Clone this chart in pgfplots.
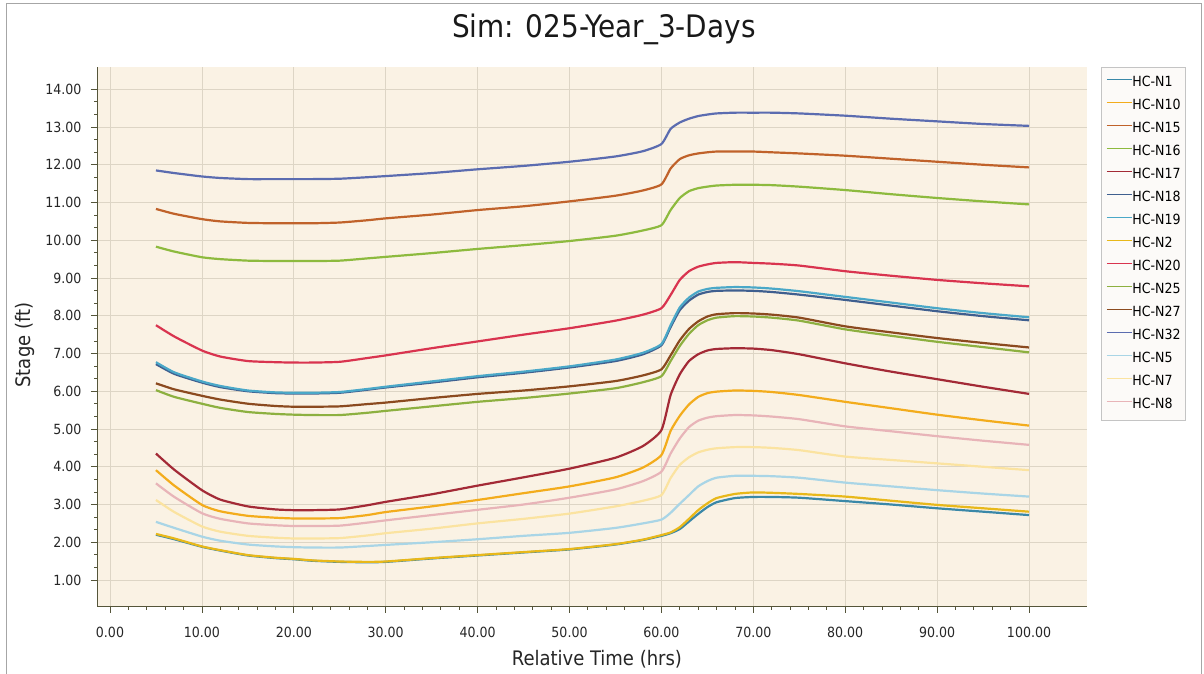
\documentclass[border=0pt]{standalone}
\usepackage{fontspec}
\setmainfont{DejaVu Sans Condensed}
\usepackage{pgfplots}
\usepackage{pgfplotstable}
\pgfplotsset{compat=1.18}

\definecolor{cN1}{HTML}{3A88A8}
\definecolor{cN10}{HTML}{F3AC1C}
\definecolor{cN15}{HTML}{C0622A}
\definecolor{cN16}{HTML}{8DBA3E}
\definecolor{cN17}{HTML}{A32A36}
\definecolor{cN18}{HTML}{3F5F8F}
\definecolor{cN19}{HTML}{4AA8C8}
\definecolor{cN2}{HTML}{E8B81A}
\definecolor{cN20}{HTML}{D9344F}
\definecolor{cN25}{HTML}{8DB040}
\definecolor{cN27}{HTML}{8B4A1F}
\definecolor{cN32}{HTML}{5B6CB0}
\definecolor{cN5}{HTML}{A9D5E6}
\definecolor{cN7}{HTML}{FBE3A0}
\definecolor{cN8}{HTML}{E8B4B8}
\definecolor{plotbg}{HTML}{FAF2E4}
\definecolor{gridcol}{HTML}{DDD5C5}
\definecolor{axiscol}{HTML}{55553A}
\definecolor{legcol}{HTML}{C4C4C4}
\definecolor{legbg}{HTML}{FCFAF8}

\pgfplotstableread{
x   N1   N10  N15   N16   N17  N18  N19  N2   N20  N25  N27  N32   N5   N7   N8
5   2.20 3.91 10.83 9.83  4.35 6.72 6.77 2.22 7.75 6.03 6.21 11.85 2.54 3.12 3.56
7   2.08 3.50 10.70 9.70  3.92 6.46 6.50 2.10 7.45 5.85 6.05 11.78 2.38 2.80 3.20
10  1.88 2.99 10.56 9.55  3.38 6.23 6.26 1.89 7.08 5.67 5.88 11.69 2.15 2.42 2.77
12  1.78 2.82 10.50 9.50  3.13 6.11 6.14 1.79 6.92 5.56 5.78 11.65 2.04 2.28 2.62
15  1.65 2.70 10.46 9.46  2.95 6.00 6.02 1.66 6.80 5.45 5.67 11.62 1.94 2.17 2.50
18  1.58 2.65 10.45 9.45  2.87 5.95 5.97 1.59 6.77 5.40 5.61 11.62 1.89 2.12 2.45
20  1.55 2.63 10.45 9.45  2.85 5.94 5.96 1.56 6.76 5.38 5.59 11.62 1.87 2.10 2.43
22  1.51 2.63 10.45 9.45  2.85 5.94 5.96 1.52 6.76 5.37 5.59 11.62 1.86 2.10 2.43
25  1.48 2.64 10.47 9.46  2.87 5.96 5.98 1.49 6.78 5.37 5.60 11.63 1.86 2.11 2.44
28  1.47 2.72 10.53 9.52  2.98 6.04 6.06 1.48 6.88 5.43 5.66 11.67 1.90 2.18 2.52
30  1.48 2.80 10.58 9.56  3.07 6.10 6.12 1.49 6.95 5.48 5.70 11.70 1.93 2.24 2.58
35  1.57 2.95 10.68 9.66  3.27 6.23 6.26 1.58 7.14 5.60 5.82 11.78 2.00 2.36 2.72
40  1.65 3.12 10.80 9.77  3.50 6.37 6.40 1.66 7.32 5.72 5.93 11.88 2.08 2.50 2.86
45  1.73 3.30 10.90 9.87  3.72 6.49 6.52 1.74 7.50 5.82 6.02 11.97 2.17 2.62 3.00
50  1.81 3.48 11.03 9.98  3.95 6.63 6.66 1.82 7.67 5.94 6.13 12.08 2.25 2.76 3.18
55  1.94 3.72 11.18 10.12 4.24 6.80 6.84 1.95 7.87 6.08 6.27 12.22 2.38 2.95 3.40
58  2.06 3.98 11.32 10.26 4.55 6.98 7.02 2.07 8.03 6.24 6.42 12.36 2.50 3.10 3.62
60  2.17 4.31 11.48 10.40 4.97 7.22 7.25 2.19 8.20 6.40 6.58 12.55 2.60 3.25 3.87
61  2.24 4.95 11.90 10.80 5.90 7.70 7.75 2.26 8.55 6.80 6.95 12.95 2.78 3.70 4.35
62  2.35 5.35 12.15 11.12 6.45 8.15 8.22 2.40 8.95 7.20 7.35 13.12 3.02 4.05 4.75
63  2.55 5.65 12.25 11.30 6.80 8.40 8.48 2.62 9.18 7.52 7.65 13.22 3.25 4.25 5.05
64  2.75 5.85 12.30 11.38 6.98 8.56 8.64 2.85 9.30 7.75 7.85 13.29 3.48 4.38 5.22
65  2.93 5.95 12.33 11.42 7.08 8.63 8.71 3.03 9.36 7.88 7.98 13.33 3.62 4.45 5.30
66  3.06 5.99 12.35 11.45 7.12 8.66 8.74 3.17 9.40 7.95 8.04 13.36 3.71 4.49 5.34
68  3.17 6.02 12.35 11.47 7.14 8.67 8.76 3.28 9.42 7.99 8.07 13.38 3.76 4.52 5.37
70  3.20 6.01 12.35 11.47 7.13 8.66 8.75 3.32 9.40 7.98 8.06 13.38 3.76 4.52 5.36
72  3.20 5.98 12.33 11.46 7.09 8.63 8.72 3.31 9.38 7.95 8.03 13.38 3.75 4.50 5.33
75  3.18 5.90 12.30 11.42 6.98 8.56 8.65 3.28 9.33 7.87 7.95 13.36 3.71 4.44 5.26
80  3.09 5.72 12.24 11.33 6.74 8.42 8.50 3.21 9.18 7.64 7.72 13.30 3.58 4.27 5.07
85  3.00 5.55 12.16 11.22 6.52 8.27 8.35 3.10 9.06 7.47 7.56 13.22 3.48 4.18 4.94
90  2.90 5.38 12.08 11.12 6.32 8.12 8.20 2.99 8.95 7.31 7.41 13.15 3.38 4.09 4.81
95  2.81 5.23 12.00 11.03 6.12 7.99 8.07 2.90 8.86 7.17 7.28 13.08 3.29 4.00 4.69
100 2.72 5.09 11.93 10.95 5.93 7.88 7.96 2.81 8.78 7.03 7.16 13.03 3.21 3.91 4.58
}\datatable

\begin{document}
\begin{tikzpicture}
\useasboundingbox (0pt,0pt) rectangle (1204pt,674pt);
\fill[white] (0pt,0pt) rectangle (1204pt,674pt);
\draw[gray!70, line width=1pt] (6pt,0pt) -- (6pt,670pt) -- (1201pt,670pt) -- (1201pt,0pt);
\begin{axis}[
  at={(97pt,67pt)}, anchor=south west,
  scale only axis, width=990pt, height=540pt,
  xmin=-1.415, xmax=106.31, ymin=0.285, ymax=14.59,
  axis x line*=bottom, axis y line*=left,
  axis line style={-, draw=axiscol, line width=1pt},
  axis background/.style={fill=plotbg},
  xtick={0,10,...,100}, ytick={1,2,...,14},
  minor x tick num=4, minor y tick num=2,
  tick align=outside,
  major tick length=6pt, minor tick length=3pt,
  every tick/.style={draw=axiscol, line width=0.8pt},
  grid=major, major grid style={draw=gridcol, line width=0.8pt},
  /pgf/number format/fixed, /pgf/number format/fixed zerofill,
  /pgf/number format/precision=2, /pgf/number format/assume math mode=true,
  xticklabel style={font=\fontsize{14}{16}\selectfont, text=black!85, yshift=-11pt},
  yticklabel style={font=\fontsize{14}{16}\selectfont, text=black!85, xshift=-6pt},
  title={Sim: 025-Year\_3-Days},
  title style={at={(axis description cs:0.512,1.0426)}, anchor=base, font=\fontsize{31}{36}\selectfont, text=black!90},
  xlabel={Relative Time (hrs)},
  xlabel style={at={(axis description cs:0.505,-0.0963)}, anchor=center, font=\fontsize{20}{24}\selectfont, text=black!85},
  ylabel={Stage (ft)},
  ylabel style={at={(axis description cs:-0.0727,0.485)}, anchor=center, font=\fontsize{20}{24}\selectfont, text=black!85},
  legend style={at={(1.0141,1)}, anchor=north west, draw=legcol, fill=legbg,
    font=\fontsize{14}{16}\selectfont, inner xsep=5pt, inner ysep=9pt, row sep=10pt,
    nodes={inner sep=0pt, text height=10pt, text depth=3pt},
    /tikz/every even column/.append style={column sep=5pt}},
  legend cell align=left,
  legend image code/.code={\draw[#1, line width=1.2pt] (0pt,3pt) -- (25pt,3pt);},
  every axis plot/.append style={line width=2.2pt, no markers, smooth, tension=0.35},
]
\addplot[cN1]  table[x=x,y=N1]{\datatable};  \addlegendentry{HC-N1}
\addplot[cN10] table[x=x,y=N10]{\datatable}; \addlegendentry{HC-N10}
\addplot[cN15] table[x=x,y=N15]{\datatable}; \addlegendentry{HC-N15}
\addplot[cN16] table[x=x,y=N16]{\datatable}; \addlegendentry{HC-N16}
\addplot[cN17] table[x=x,y=N17]{\datatable}; \addlegendentry{HC-N17}
\addplot[cN18] table[x=x,y=N18]{\datatable}; \addlegendentry{HC-N18}
\addplot[cN19] table[x=x,y=N19]{\datatable}; \addlegendentry{HC-N19}
\addplot[cN2]  table[x=x,y=N2]{\datatable};  \addlegendentry{HC-N2}
\addplot[cN20] table[x=x,y=N20]{\datatable}; \addlegendentry{HC-N20}
\addplot[cN25] table[x=x,y=N25]{\datatable}; \addlegendentry{HC-N25}
\addplot[cN27] table[x=x,y=N27]{\datatable}; \addlegendentry{HC-N27}
\addplot[cN32] table[x=x,y=N32]{\datatable}; \addlegendentry{HC-N32}
\addplot[cN5]  table[x=x,y=N5]{\datatable};  \addlegendentry{HC-N5}
\addplot[cN7]  table[x=x,y=N7]{\datatable};  \addlegendentry{HC-N7}
\addplot[cN8]  table[x=x,y=N8]{\datatable};  \addlegendentry{HC-N8}
\end{axis}
\end{tikzpicture}
\end{document}
